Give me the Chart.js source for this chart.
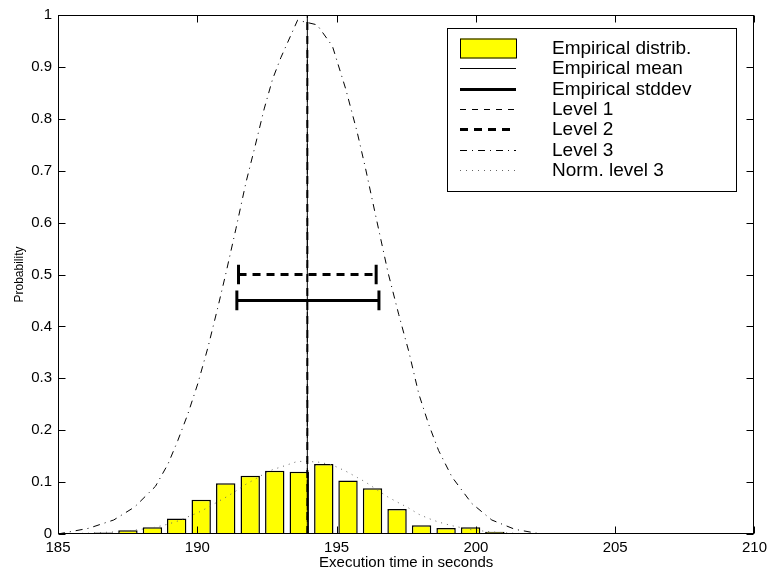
<!DOCTYPE html>
<html>
<head>
<meta charset="utf-8">
<title>Execution time distribution</title>
<script src="https://cdn.jsdelivr.net/npm/chart.js@4.4.1/dist/chart.umd.min.js"></script>
<style>
    html, body { margin: 0; padding: 0; background: #fff; }
    #wrap { width: 772px; height: 578px; }
</style>
</head>
<body>
<div id="wrap"><canvas id="distChart" width="772" height="578"></canvas></div>
<script>
// ==================== data ====================

// histogram: bin centres (s) and empirical probability
const binCenters = [185.75, 186.63, 187.51, 188.39, 189.26, 190.14, 191.02, 191.90, 192.78, 193.66,
                    194.54, 195.41, 196.29, 197.17, 198.05, 198.93, 199.81, 200.68, 201.56];
const binProb    = [0.001, 0.003, 0.007, 0.013, 0.030, 0.066, 0.098, 0.112, 0.122, 0.120,
                    0.135, 0.103, 0.088, 0.048, 0.017, 0.0115, 0.0128, 0.0045, 0.0013];

// mean and stddev bars
const meanX = 193.95;
const stddevRange = [191.42, 196.52];
const stddevY = 0.45;
const level2Range = [191.48, 196.42];
const level2Y = 0.50;

// level 3 curve and its normalised version
const level3X = [185.0, 186.1, 187.0, 187.75, 188.5, 188.95, 189.3, 189.66, 190.02, 190.38,
                 190.73, 191.03, 191.39, 191.75, 192.05, 192.4, 192.7, 193.0, 193.6, 194.3,
                 194.85, 195.33, 195.74, 196.04, 196.4, 196.85, 197.23, 197.59, 197.95, 198.3,
                 198.66, 199.14, 199.85, 200.57, 201.4, 202.24, 203.0];
const level3Y = [0.0, 0.011, 0.027, 0.052, 0.092, 0.135, 0.18, 0.231, 0.29, 0.359,
                 0.435, 0.503, 0.589, 0.678, 0.742, 0.819, 0.876, 0.918, 0.99, 0.981,
                 0.94, 0.857, 0.774, 0.704, 0.614, 0.503, 0.423, 0.352, 0.27, 0.212,
                 0.161, 0.11, 0.059, 0.027, 0.009, 0.001, 0.0];
const normLevel3Y = [0.0, 0.0016, 0.004, 0.0074, 0.013, 0.019, 0.025, 0.033, 0.041, 0.051,
                     0.062, 0.071, 0.083, 0.096, 0.105, 0.116, 0.124, 0.129, 0.14, 0.139,
                     0.133, 0.121, 0.109, 0.1, 0.087, 0.071, 0.06, 0.05, 0.038, 0.03,
                     0.023, 0.016, 0.008, 0.004, 0.0013, 0.0001, 0.0];

const xTicks = [185, 190, 195, 200, 205, 210];
const yTicks = [0, 0.1, 0.2, 0.3, 0.4, 0.5, 0.6, 0.7, 0.8, 0.9, 1];
const legendLabels = ['Empirical distrib.', 'Empirical mean', 'Empirical stddev', 'Level 1', 'Level 2', 'Level 3', 'Norm. level 3'];

const capHalf = 0.019;   // half height of the error bar end caps (y units)
const FONT = '"Liberation Sans", Arial, Helvetica, sans-serif';

// ==================== helpers ====================

function pts(xs, ys) { return xs.map((x, i) => ({ x: x, y: ys[i] })); }

// vertical end caps of an error bar, the null point breaks the path
function capPts(range, y) {
    return [
        { x: range[0], y: y - capHalf }, { x: range[0], y: y + capHalf }, { x: range[0], y: null },
        { x: range[1], y: y - capHalf }, { x: range[1], y: y + capHalf }
    ];
}

function lineDs(label, data, width, dash, color) {
    return {
        type: 'line', label: label, data: data,
        borderColor: color || '#000', borderWidth: width, borderDash: dash || [],
        pointRadius: 0, fill: false, tension: 0, spanGaps: false, order: 0
    };
}

// ==================== plugins ====================

// matlab-like box with inward ticks on all four sides
const axesBox = {
    id: 'axesBox',
    afterDatasetsDraw(chart) {
        const { ctx, chartArea: a, scales } = chart;
        const L = Math.round(a.left) + 0.5, R = Math.round(a.right) - 0.5;
        const T = Math.round(a.top) + 0.5, B = Math.round(a.bottom) - 0.5;
        ctx.save();
        ctx.strokeStyle = '#000';
        ctx.lineWidth = 1;
        ctx.setLineDash([]);
        ctx.strokeRect(L, T, R - L, B - T);
        ctx.beginPath();
        xTicks.forEach(v => {
            let px = Math.round(scales.x.getPixelForValue(v)) + 0.5;
            ctx.moveTo(px, B); ctx.lineTo(px, B - 7);
            ctx.moveTo(px, T); ctx.lineTo(px, T + 7);
        });
        yTicks.forEach(v => {
            let py = Math.round(scales.y.getPixelForValue(v)) + 0.5;
            ctx.moveTo(L, py); ctx.lineTo(L + 7, py);
            ctx.moveTo(R, py); ctx.lineTo(R - 7, py);
        });
        ctx.stroke();
        ctx.restore();
    }
};

// legend box in the top right corner, styles taken from the datasets
const legendBox = {
    id: 'legendBox',
    afterDraw(chart) {
        const { ctx, chartArea: a } = chart;
        const left = Math.round(a.right) - 307, top = Math.round(a.top) + 13;
        const w = 289, h = 163, rowH = 20.3;
        ctx.save();
        ctx.fillStyle = '#fff';
        ctx.fillRect(left, top, w, h);
        ctx.strokeStyle = '#000';
        ctx.lineWidth = 1;
        ctx.strokeRect(left + 0.5, top + 0.5, w, h);

        const sx0 = left + 13, sx1 = left + 69;
        ctx.font = '19px ' + FONT;
        ctx.textBaseline = 'middle';
        ctx.textAlign = 'left';
        legendLabels.forEach((label, i) => {
            let cy = Math.round(top + 20 + i * rowH) + 0.5;
            let ds = chart.data.datasets.find(d => d.label === label);
            if (ds.type === 'bar') {
                ctx.fillStyle = ds.backgroundColor;
                ctx.fillRect(sx0, cy - 10, sx1 - sx0, 20);
                ctx.strokeStyle = ds.borderColor;
                ctx.lineWidth = 1;
                ctx.setLineDash([]);
                ctx.strokeRect(sx0 + 0.5, cy - 9.5, sx1 - sx0, 19);
            } else {
                ctx.strokeStyle = ds.borderColor;
                ctx.lineWidth = ds.borderWidth;
                ctx.setLineDash(ds.borderDash);
                ctx.beginPath();
                ctx.moveTo(sx0, cy);
                ctx.lineTo(sx1, cy);
                ctx.stroke();
            }
            ctx.setLineDash([]);
            ctx.fillStyle = '#000';
            ctx.fillText(label, left + 105, cy);
        });
        ctx.restore();
    }
};

// ==================== chart ====================

const datasets = [
    {
        type: 'bar', label: 'Empirical distrib.', data: pts(binCenters, binProb),
        backgroundColor: '#ffff00', borderColor: '#000', borderWidth: 1.5,
        categoryPercentage: 1.0, barPercentage: 0.8, order: 1
    },
    lineDs('Empirical mean', [{ x: meanX, y: 0 }, { x: meanX, y: 1 }], 1, []),
    lineDs('Empirical stddev', pts(stddevRange, [stddevY, stddevY]), 3, []),
    lineDs('stddev caps', capPts(stddevRange, stddevY), 3, []),
    lineDs('Level 1', [{ x: meanX, y: 0 }, { x: meanX, y: 1 }], 1, [6, 6]),
    lineDs('Level 2', pts(level2Range, [level2Y, level2Y]), 3, [8, 6]),
    lineDs('level 2 vertical', [{ x: meanX, y: 0 }, { x: meanX, y: 1 }], 2, [8, 6]),
    lineDs('level 2 caps', capPts(level2Range, level2Y), 3, []),
    lineDs('Level 3', pts(level3X, level3Y), 1, [7, 5, 1, 5]),
    lineDs('Norm. level 3', pts(level3X, normLevel3Y), 1, [1, 5], '#666')
];

const distChart = new Chart(document.getElementById('distChart').getContext('2d'), {
    type: 'bar',
    data: { datasets: datasets },
    options: {
        responsive: false,
        animation: false,
        devicePixelRatio: 1,
        layout: { padding: { top: 12, right: 15, left: 0, bottom: 0 } },
        plugins: { legend: { display: false }, tooltip: { enabled: false } },
        scales: {
            x: {
                type: 'linear', min: 185, max: 210, offset: false,
                grid: { display: false, drawTicks: false, offset: false },
                border: { display: false },
                afterBuildTicks: s => { s.ticks = xTicks.map(v => ({ value: v })); },
                afterFit: s => { s.height = 44; },
                ticks: { color: '#000', padding: 5, maxRotation: 0, font: { family: FONT, size: 15 }, callback: v => String(v) },
                title: { display: true, text: 'Execution time in seconds', color: '#000', padding: { top: 0, bottom: 6 }, font: { family: FONT, size: 15 } }
            },
            y: {
                type: 'linear', min: 0, max: 1,
                grid: { display: false, drawTicks: false },
                border: { display: false },
                afterBuildTicks: s => { s.ticks = yTicks.map(v => ({ value: v })); },
                afterFit: s => { s.width = 58; },
                ticks: { color: '#000', padding: 6, font: { family: FONT, size: 15 }, callback: v => String(v) },
                title: { display: true, text: 'Probability', color: '#000', padding: { top: 12, bottom: 0 }, font: { family: FONT, size: 12 } }
            }
        }
    },
    plugins: [axesBox, legendBox]
});
</script>
</body>
</html>
